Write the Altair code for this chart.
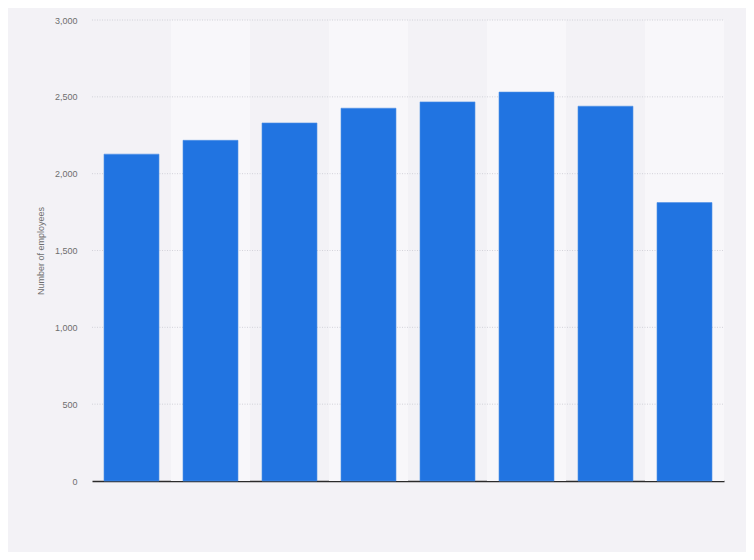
import altair as alt
import pandas as pd

categories = ["2013", "2014", "2015", "2016", "2017", "2018", "2019", "2020"]
employees = [2127, 2217, 2330, 2426, 2467, 2531, 2439, 1812]
band_flags = [0, 1, 0, 1, 0, 1, 0, 1]
tick_values = [0, 500, 1000, 1500, 2000, 2500, 3000]

df = pd.DataFrame({"year": categories, "employees": employees, "band": band_flags,
                   "top": [3000] * len(categories)})
grid_df = pd.DataFrame({"v": tick_values[1:]})

PAD = 0.304
x_enc = alt.X("year:N", sort=categories,
              scale=alt.Scale(paddingInner=PAD, paddingOuter=PAD / 2),
              axis=alt.Axis(title=None, labels=False, ticks=False, domain=True,
                            domainColor="#2b2b2b", domainWidth=1.5, grid=False))

y_scale = alt.Scale(domain=[0, 3000])

bands = alt.Chart(df).transform_filter("datum.band == 1").mark_bar(
    color="#f8f7fa", width=alt.RelativeBandSize(1 / (1 - PAD))
).encode(
    x=x_enc,
    y=alt.Y("top:Q", scale=y_scale),
    y2=alt.datum(0),
)

grid = alt.Chart(grid_df).mark_rule(color="#cfced6", strokeDash=[1, 1.5], strokeWidth=0.9).encode(
    y=alt.Y("v:Q", scale=y_scale),
    x=alt.value(0), x2=alt.value(632),
)

bars = alt.Chart(df).mark_bar(color="#2174e1", stroke="#4f90e6", strokeWidth=0.6).encode(
    x=x_enc,
    y=alt.Y("employees:Q", scale=y_scale,
            axis=alt.Axis(title="Number of employees", values=tick_values,
                          format=",d", labelFont="Liberation Sans", labelFontSize=9,
                          labelColor="#6e6e6e", labelPadding=15, ticks=False, domain=False,
                          grid=False,
                          titleFont="Liberation Sans", titleFontSize=9, titleFontWeight="normal",
                          titleColor="#6e6e6e", titlePadding=9)),
)

chart = alt.layer(bands, grid, bars).properties(
    width=632, height=461,
    autosize=alt.AutoSizeParams(type="none"),
    padding={"left": 84, "top": 12, "right": 22, "bottom": 71},
    background="#f3f2f6",
).configure_view(stroke=None)

chart.save("out.html", embed_options={"renderer": "svg", "actions": False})
